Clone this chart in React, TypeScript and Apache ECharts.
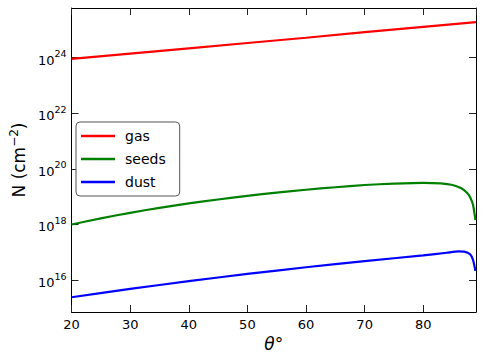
import React, { useEffect, useRef } from "react";
import * as echarts from "echarts";

const gasTheta = [20, 30, 40, 50, 60, 70, 80, 89];
const gasN = [9.1e23, 1.41e24, 2.19e24, 3.39e24, 5.25e24, 8.3e24, 1.29e25, 1.9e25];

const seedsTheta = [20, 25, 30, 35, 40, 45, 50, 55, 60, 65, 70, 75, 80, 83, 85, 86.5, 87.5, 88, 88.5, 88.9];
const seedsN = [1.0e18, 1.66e18, 2.63e18, 3.98e18, 5.75e18, 7.94e18, 1.07e19, 1.41e19, 1.78e19, 2.19e19, 2.63e19, 2.95e19, 3.16e19, 3.02e19, 2.63e19, 2.0e19, 1.35e19, 9.5e18, 5.0e18, 1.45e18];

const dustTheta = [20, 30, 40, 50, 60, 70, 80, 84, 86, 87, 88, 88.5, 88.9];
const dustN = [2.4e15, 4.79e15, 9.12e15, 1.66e16, 2.88e16, 4.79e16, 7.76e16, 9.6e16, 1.08e17, 1.06e17, 8.5e16, 5.25e16, 2.14e16];

const yTicks = [1e16, 1e18, 1e20, 1e22, 1e24];
const xMin = 20;
const xMax = 89;
const yMin = 7.08e14;
const yMax = 6.17e25;

const FONT = "DejaVu Sans";

const pairs = (xs: number[], ys: number[]) => xs.map((x, i) => [x, ys[i]]);

export default function App() {
  const ref = useRef<HTMLDivElement>(null);
  useEffect(() => {
    if (!ref.current) return;
    const chart = echarts.init(ref.current, undefined, { renderer: "svg" });
    const tickStyle = { show: true, inside: true, length: 7, lineStyle: { color: "#222", width: 1 } };
    const lineAxis = { show: true, lineStyle: { color: "#000", width: 1 } };
    chart.setOption({
      animation: false,
      backgroundColor: "#fff",
      textStyle: { fontFamily: FONT },
      grid: { left: 68, right: 9, top: 8, bottom: 48 },
      legend: {
        orient: "vertical",
        left: 76,
        top: 122,
        icon: "rect",
        itemWidth: 34,
        itemHeight: 2.5,
        itemGap: 5,
        padding: [5, 14, 5, 5],
        borderColor: "#555",
        borderWidth: 1,
        borderRadius: 4,
        backgroundColor: "#fff",
        textStyle: { fontSize: 14, color: "#000", fontFamily: FONT, lineHeight: 18, padding: [0, 0, 0, 5] },
        data: ["gas", "seeds", "dust"],
      },
      xAxis: [
        {
          type: "value",
          min: xMin,
          max: xMax,
          interval: 10,
          axisLine: lineAxis,
          axisTick: tickStyle,
          splitLine: { show: false },
          axisLabel: { fontSize: 13, color: "#000", margin: 6, showMaxLabel: false, fontFamily: FONT },
          name: "{i|θ}°",
          nameLocation: "middle",
          nameGap: 17,
          nameTextStyle: {
            fontSize: 17,
            color: "#000",
            fontFamily: FONT,
            rich: { i: { fontSize: 17, fontStyle: "italic", fontFamily: FONT, color: "#000" } },
          },
        },
        {
          type: "value",
          position: "top",
          min: xMin,
          max: xMax,
          interval: 10,
          axisLine: lineAxis,
          axisTick: tickStyle,
          splitLine: { show: false },
          axisLabel: { show: false },
        },
      ],
      yAxis: [
        {
          type: "log",
          logBase: 10,
          min: yMin,
          max: yMax,
          axisLine: lineAxis,
          axisTick: { ...tickStyle, customValues: yTicks },
          splitLine: { show: false },
          minorTick: { show: false },
          axisLabel: {
            customValues: yTicks,
            margin: 5,
            color: "#000",
            fontFamily: FONT,
            formatter: (v: number) => `{b|10}{s|${Math.round(Math.log10(v))}}`,
            rich: {
              b: { fontSize: 13, fontFamily: FONT, color: "#000", verticalAlign: "bottom", padding: [5, 0, 0, 0] },
              s: { fontSize: 9.5, fontFamily: FONT, color: "#000", verticalAlign: "bottom", padding: [0, 0, 8, 0] },
            },
          },
          name: "N (cm{s|−2})",
          nameLocation: "middle",
          nameRotate: 90,
          nameGap: 41,
          nameTextStyle: {
            fontSize: 17,
            color: "#000",
            fontFamily: FONT,
            rich: {
              s: { fontSize: 12, fontFamily: FONT, color: "#000", verticalAlign: "bottom", padding: [0, 0, 9, 0] },
            },
          },
        },
        {
          type: "log",
          logBase: 10,
          position: "right",
          min: yMin,
          max: yMax,
          axisLine: lineAxis,
          axisTick: { ...tickStyle, customValues: yTicks },
          splitLine: { show: false },
          minorTick: { show: false },
          axisLabel: { show: false },
        },
      ],
      series: [
        {
          name: "gas",
          type: "line",
          data: pairs(gasTheta, gasN),
          showSymbol: false,
          symbol: "none",
          color: "#ff0000",
          lineStyle: { color: "#ff0000", width: 2.2 },
        },
        {
          name: "seeds",
          type: "line",
          smooth: 0.2,
          data: pairs(seedsTheta, seedsN),
          showSymbol: false,
          symbol: "none",
          color: "#008000",
          lineStyle: { color: "#008000", width: 2.2 },
        },
        {
          name: "dust",
          type: "line",
          smooth: 0.2,
          data: pairs(dustTheta, dustN),
          showSymbol: false,
          symbol: "none",
          color: "#0000ff",
          lineStyle: { color: "#0000ff", width: 2.2 },
        },
      ],
    });
    return () => chart.dispose();
  }, []);
  return <div ref={ref} style={{ width: 485, height: 360, position: "fixed", left: 0, top: 0 }} />;
}
